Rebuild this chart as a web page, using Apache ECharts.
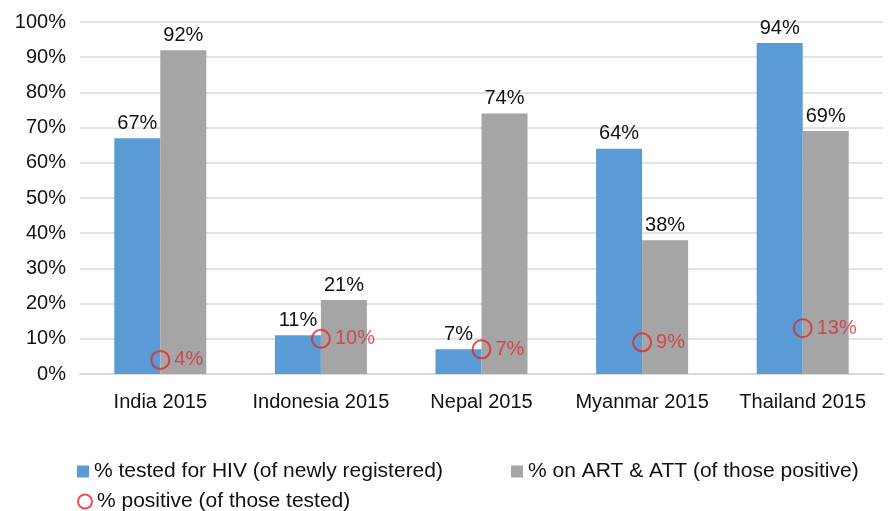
<!DOCTYPE html>
<html>
<head>
<meta charset="utf-8">
<script src="https://cdn.jsdelivr.net/npm/echarts@6/dist/echarts.min.js"></script>
<style>
  html, body { margin: 0; padding: 0; background: #fff; }
  #chart { width: 891px; height: 511px; }
</style>
</head>
<body>
<div id="chart"></div>
<script>
// data
const categories = ['India 2015', 'Indonesia 2015', 'Nepal 2015', 'Myanmar 2015', 'Thailand 2015'];
const testedHiv = [67, 11, 7, 64, 94];
const onArtAtt = [92, 21, 74, 38, 69];
const positive = [4, 10, 7, 9, 13];
const yTicks = [0, 10, 20, 30, 40, 50, 60, 70, 80, 90, 100];

const seriesNames = [
    '% tested for HIV (of newly registered)',
    '% on ART & ATT (of those positive)',
    '% positive (of those tested)'
];

const fontFamily = 'Liberation Sans, Arial, Helvetica, sans-serif';

const chart = echarts.init(document.getElementById('chart'));

const option = {
    animation: false,
    textStyle: { fontFamily: fontFamily },
    grid: {
        left: 80,
        right: 8,
        top: 22,
        bottom: 137
    },
    legend: [
        {
            data: [seriesNames[0], seriesNames[1]],
            left: 72,
            top: 456,
            itemWidth: 12,
            itemHeight: 12,
            itemGap: 68,
            icon: 'rect',
            textStyle: { fontSize: 21, color: '#111', fontFamily: fontFamily }
        },
        {
            data: [seriesNames[2]],
            left: 72,
            top: 486,
            itemWidth: 14,
            itemHeight: 14,
            textStyle: { fontSize: 21, color: '#111', fontFamily: fontFamily }
        }
    ],
    xAxis: {
        type: 'category',
        data: categories,
        axisTick: { show: false },
        axisLine: { lineStyle: { color: '#d9d9d9', width: 2 } },
        axisLabel: {
            color: '#111',
            fontSize: 20,
            margin: 18,
            interval: 0
        }
    },
    yAxis: {
        type: 'value',
        min: yTicks[0],
        max: yTicks[yTicks.length - 1],
        interval: 10,
        axisLine: { show: false },
        axisTick: { show: false },
        splitLine: { lineStyle: { color: '#d9d9d9', width: 1.5 } },
        axisLabel: {
            color: '#111',
            fontSize: 20,
            margin: 14,
            formatter: '{value}%'
        }
    },
    series: [
        {
            name: seriesNames[0],
            type: 'bar',
            data: testedHiv,
            barWidth: 46,
            barGap: '0%',
            itemStyle: { color: '#5b9bd5' },
            label: {
                show: true,
                position: 'top',
                distance: 5,
                color: '#111',
                fontSize: 20,
                formatter: '{c}%'
            }
        },
        {
            name: seriesNames[1],
            type: 'bar',
            data: onArtAtt,
            barWidth: 46,
            barGap: '0%',
            itemStyle: { color: '#a5a5a5' },
            label: {
                show: true,
                position: 'top',
                distance: 5,
                color: '#111',
                fontSize: 20,
                formatter: '{c}%'
            }
        },
        {
            name: seriesNames[2],
            type: 'scatter',
            data: positive,
            symbol: 'circle',
            symbolSize: 18,
            z: 5,
            itemStyle: { color: 'rgba(0,0,0,0)', borderColor: '#e8232b', borderWidth: 2 },
            label: {
                show: true,
                position: 'right',
                distance: 4,
                color: '#d9303a',
                fontSize: 20,
                formatter: '{c}%'
            }
        }
    ]
};

chart.setOption(option);

window.addEventListener('resize', function() {
    chart.resize();
});
</script>
</body>
</html>
